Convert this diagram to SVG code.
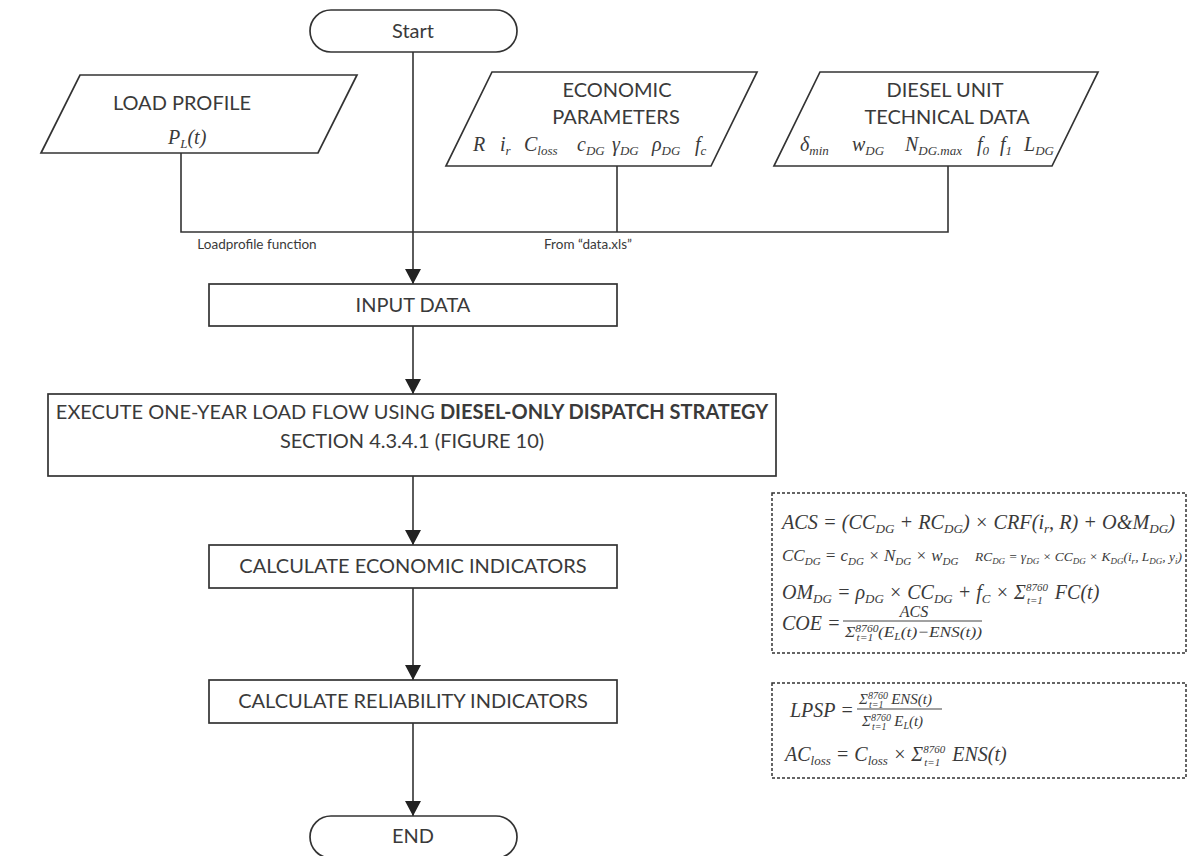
<svg xmlns="http://www.w3.org/2000/svg" width="1192" height="856" viewBox="0 0 1192 856">
<defs>
<style>
.shape{fill:#fff;stroke:#333;stroke-width:1.7}
.dash{fill:#fff;stroke:#333;stroke-width:1.5;stroke-dasharray:3 2}
.ln{fill:none;stroke:#333;stroke-width:1.6}
.fl{stroke:#444;stroke-width:1.1}
.t{font-family:Lato,"Liberation Sans",sans-serif;font-size:20px;fill:#3a3a3a;text-anchor:middle}
.b{font-weight:bold}
.sm{font-family:Lato,"Liberation Sans",sans-serif;font-size:13.5px;fill:#3a3a3a;text-anchor:middle}
.m{font-family:"Liberation Serif",serif;font-style:italic;font-size:20px;fill:#3a3a3a}
.s{font-size:13px}
.lim{font-size:11px}
.f13{font-size:13.4px}
.f15{font-size:15px}
.f16{font-size:16px}
.f17{font-size:17px}
.f9{font-size:9px}
.f10{font-size:10px}
.f11{font-size:11px}
</style>
<marker id="arr" markerWidth="16" markerHeight="16" refX="15" refY="8" orient="auto" markerUnits="userSpaceOnUse">
<path d="M0,0 L15,8 L0,16 Z" fill="#222"/>
</marker>
</defs>
<rect width="1192" height="856" fill="#fff"/>

<g id="connectors">
<line class="ln" x1="413" y1="52" x2="413" y2="284" marker-end="url(#arr)"/>
<polyline class="ln" points="181,153 181,232 948,232 948,166"/>
<line class="ln" x1="617" y1="166" x2="617" y2="232"/>
<line class="ln" x1="413" y1="326" x2="413" y2="394" marker-end="url(#arr)"/>
<line class="ln" x1="413" y1="476" x2="413" y2="545" marker-end="url(#arr)"/>
<line class="ln" x1="413" y1="588" x2="413" y2="680" marker-end="url(#arr)"/>
<line class="ln" x1="413" y1="723" x2="413" y2="816" marker-end="url(#arr)"/>
<text class="sm" x="257" y="249">Loadprofile function</text>
<text class="sm" x="588" y="249">From “data.xls”</text>
</g>

<g id="start">
<rect class="shape" x="310" y="10" width="207" height="42" rx="21"/>
<text class="t" x="413" y="38">Start</text>
</g>

<g id="load-profile">
<polygon class="shape" points="80,75 357,75 318,153 41,153"/>
<text class="t" x="182" y="110">LOAD PROFILE</text>
<text class="m" x="168" y="144">P<tspan class="s" dy="4">L</tspan><tspan dy="-4">(t)</tspan></text>
</g>

<g id="economic">
<polygon class="shape" points="492,72 757,72 711,166 446,166"/>
<text class="t" x="617" y="97">ECONOMIC</text>
<text class="t" x="616" y="124">PARAMETERS</text>
<text class="m" x="473" y="151">R</text>
<text class="m" x="500" y="151">i<tspan class="s" dy="4">r</tspan></text>
<text class="m" x="524" y="151">C<tspan class="s" dy="4">loss</tspan></text>
<text class="m" x="577" y="151">c<tspan class="s" dy="4">DG</tspan></text>
<text class="m" x="612" y="151">γ<tspan class="s" dy="4">DG</tspan></text>
<text class="m" x="652" y="151">ρ<tspan class="s" dy="4">DG</tspan></text>
<text class="m" x="695" y="151">f<tspan class="s" dy="4">c</tspan></text>
</g>

<g id="diesel">
<polygon class="shape" points="820,72 1098,72 1052,166 774,166"/>
<text class="t" x="945" y="97">DIESEL UNIT</text>
<text class="t" x="947" y="124">TECHNICAL DATA</text>
<text class="m" x="800" y="151">δ<tspan class="s" dy="4">min</tspan></text>
<text class="m" x="852" y="151">w<tspan class="s" dy="4">DG</tspan></text>
<text class="m" x="905" y="151">N<tspan class="s" dy="4">DG.max</tspan></text>
<text class="m" x="977" y="151">f<tspan class="s" dy="4">0</tspan></text>
<text class="m" x="1000" y="151">f<tspan class="s" dy="4">1</tspan></text>
<text class="m" x="1024" y="151">L<tspan class="s" dy="4">DG</tspan></text>
</g>

<g id="input-data">
<rect class="shape" x="209" y="284" width="408" height="42"/>
<text class="t" x="413" y="312">INPUT DATA</text>
</g>

<g id="execute">
<rect class="shape" x="48" y="394" width="728" height="82"/>
<text class="t" x="412" y="419">EXECUTE ONE-YEAR LOAD FLOW USING <tspan class="b">DIESEL-ONLY DISPATCH STRATEGY</tspan></text>
<text class="t" x="412" y="448">SECTION 4.3.4.1 (FIGURE 10)</text>
</g>

<g id="economic-indicators">
<rect class="shape" x="209" y="545" width="408" height="43"/>
<text class="t" x="413" y="573">CALCULATE ECONOMIC INDICATORS</text>
</g>

<g id="reliability-indicators">
<rect class="shape" x="209" y="680" width="408" height="43"/>
<text class="t" x="413" y="708">CALCULATE RELIABILITY INDICATORS</text>
</g>

<g id="end">
<rect class="shape" x="310" y="816" width="207" height="42" rx="21"/>
<text class="t" x="413" y="843">END</text>
</g>

<g id="economic-formulas">
<rect class="dash" x="772" y="493" width="414" height="160"/>
<text class="m" x="782" y="529" textLength="393" lengthAdjust="spacingAndGlyphs">ACS = (CC<tspan class="s" dy="4">DG</tspan><tspan dy="-4"> + RC</tspan><tspan class="s" dy="4">DG</tspan><tspan dy="-4">) × CRF(i</tspan><tspan class="s" dy="4">r</tspan><tspan dy="-4">, R) + O&amp;M</tspan><tspan class="s" dy="4">DG</tspan><tspan dy="-4">)</tspan></text>
<text class="m f17" x="782" y="561">CC<tspan class="f11" dy="4">DG</tspan><tspan dy="-4"> = c</tspan><tspan class="f11" dy="4">DG</tspan><tspan dy="-4"> × N</tspan><tspan class="f11" dy="4">DG</tspan><tspan dy="-4"> × w</tspan><tspan class="f11" dy="4">DG</tspan></text>
<text class="m f13" x="975" y="561">RC<tspan class="f9" dy="3">DG</tspan><tspan dy="-3"> = γ</tspan><tspan class="f9" dy="3">DG</tspan><tspan dy="-3"> × CC</tspan><tspan class="f9" dy="3">DG</tspan><tspan dy="-3"> × K</tspan><tspan class="f9" dy="3">DG</tspan><tspan dy="-3">(i</tspan><tspan class="f9" dy="3">r</tspan><tspan dy="-3">, L</tspan><tspan class="f9" dy="3">DG</tspan><tspan dy="-3">, y</tspan><tspan class="f9" dy="3">i</tspan><tspan dy="-3">)</tspan></text>
<text class="m" x="782" y="599">OM<tspan class="s" dy="4">DG</tspan><tspan dy="-4"> = ρ</tspan><tspan class="s" dy="4">DG</tspan><tspan dy="-4"> × CC</tspan><tspan class="s" dy="4">DG</tspan><tspan dy="-4"> + f</tspan><tspan class="s" dy="4">C</tspan><tspan dy="-4"> × Σ</tspan><tspan class="lim" dy="-8">8760</tspan><tspan class="lim" dx="-21" dy="13">t=1</tspan><tspan dx="7" dy="-5"> FC(t)</tspan></text>
<text class="m" x="782" y="630">COE =</text>
<text class="m f16" x="914" y="617" text-anchor="middle">ACS</text>
<line class="fl" x1="843" y1="621" x2="982" y2="621"/>
<text class="m f15" x="845" y="637" textLength="137" lengthAdjust="spacingAndGlyphs">Σ<tspan class="f10" dy="-5">8760</tspan><tspan class="f10" dx="-19" dy="9">t=1</tspan><tspan dx="4" dy="-4">(E</tspan><tspan class="f10" dy="3">L</tspan><tspan dy="-3">(t)−ENS(t))</tspan></text>
</g>

<g id="reliability-formulas">
<rect class="dash" x="772" y="683" width="414" height="95"/>
<text class="m" x="790" y="717">LPSP =</text>
<text class="m f15" x="859" y="704">Σ<tspan class="f10" dy="-5">8760</tspan><tspan class="f10" dx="-19" dy="9">t=1</tspan><tspan dx="4" dy="-4"> ENS(t)</tspan></text>
<line class="fl" x1="857" y1="709" x2="942" y2="709"/>
<text class="m f15" x="862" y="726">Σ<tspan class="f10" dy="-5">8760</tspan><tspan class="f10" dx="-19" dy="9">t=1</tspan><tspan dx="4" dy="-4"> E</tspan><tspan class="f10" dy="3">L</tspan><tspan dy="-3">(t)</tspan></text>
<text class="m" x="785" y="761">AC<tspan class="s" dy="4">loss</tspan><tspan dy="-4"> = C</tspan><tspan class="s" dy="4">loss</tspan><tspan dy="-4"> × Σ</tspan><tspan class="lim" dy="-8">8760</tspan><tspan class="lim" dx="-21" dy="13">t=1</tspan><tspan dx="7" dy="-5"> ENS(t)</tspan></text>
</g>
</svg>
